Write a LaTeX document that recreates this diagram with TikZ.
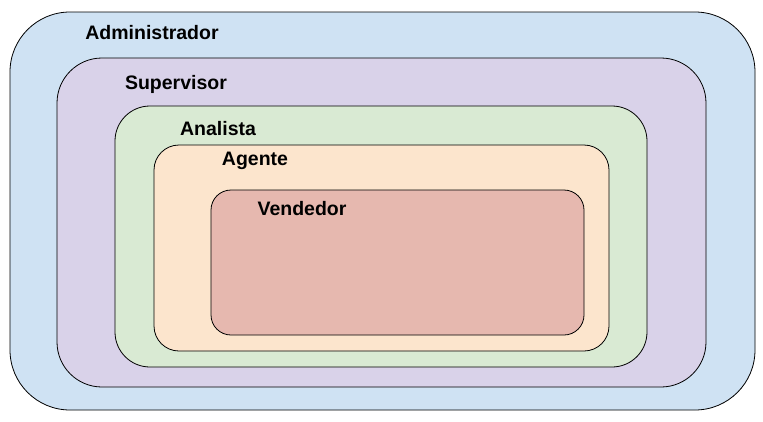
\documentclass[tikz,border=0pt]{standalone}
\usepackage{fontspec}
\setmainfont{Liberation Sans}
\begin{document}
\begin{tikzpicture}[x=1pt,y=-1pt,
 box/.style={draw=black,line width=0.8pt},
 lbl/.style={font=\fontsize{19.5}{22}\selectfont\bfseries,anchor=center}]
\useasboundingbox (0,0) rectangle (763,421);
\fill[white] (0,0) rectangle (763,421);
\draw[box,fill={rgb,255:red,207;green,226;blue,243},rounded corners=60pt] (10,12) rectangle (755,410);
\draw[box,fill={rgb,255:red,217;green,210;blue,233},rounded corners=45pt] (57,58) rectangle (706,387);
\draw[box,fill={rgb,255:red,217;green,234;blue,211},rounded corners=35pt] (115,106) rectangle (647,367);
\draw[box,fill={rgb,255:red,252;green,229;blue,205},rounded corners=25pt] (154,145) rectangle (609,351);
\draw[box,fill={rgb,255:red,230;green,184;blue,175},rounded corners=20pt] (211,190) rectangle (584,335);
\node[lbl] (admin) at (152,33) {Administrador};
\node[lbl] (sup) at (176,84) {Supervisor};
\node[lbl] (ana) at (218,129) {Analista};
\node[lbl] (age) at (255,161) {Agente};
\node[lbl] (ven) at (302,209) {Vendedor};
\end{tikzpicture}
\end{document}
